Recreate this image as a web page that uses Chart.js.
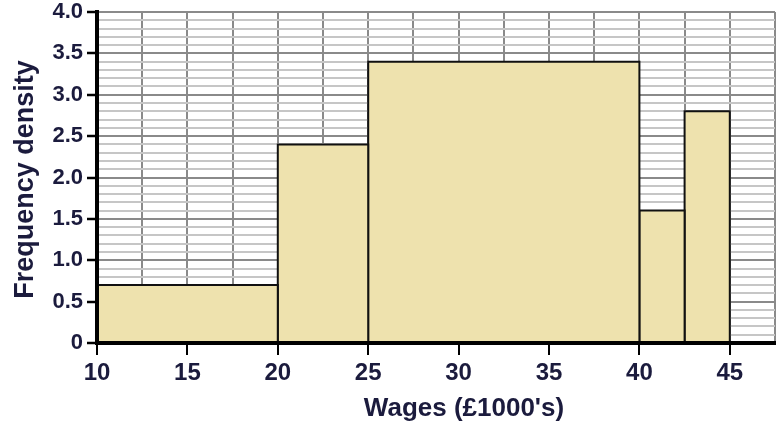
<!DOCTYPE html>
<html>
<head>
<meta charset="utf-8">
<script src="https://cdn.jsdelivr.net/npm/chart.js@4.4.0/dist/chart.umd.min.js"></script>
<style>
html,body{margin:0;padding:0;background:#fff;}
#wrap{width:776px;height:423px;position:relative;}
</style>
</head>
<body>
<div id="wrap"><canvas id="c" width="776" height="423"></canvas></div>
<script>
// ---- data ----
const classStarts = [10, 20, 25, 40, 42.5];
const classEnds = [20, 25, 40, 42.5, 45];
const frequencyDensity = [0.7, 2.4, 3.4, 1.6, 2.8];
const xTickLabels = ['10', '15', '20', '25', '30', '35', '40', '45'];
const yTickLabels = ['0', '0.5', '1.0', '1.5', '2.0', '2.5', '3.0', '3.5', '4.0'];
const xTitle = "Wages (£1000's)";
const yTitle = "Frequency density";

// ---- styles ----
const textColor = '#1b1b3d';
const barFill = '#eee2ae';
const fontFam = '"Liberation Sans", Arial, sans-serif';

function xLabelFor(v) {
  const i = xTickLabels.findIndex(l => Math.abs(Number(l) - v) < 1e-6);
  return i >= 0 ? xTickLabels[i] : '';
}
function yLabelFor(v) {
  const i = yTickLabels.findIndex(l => Math.abs(Number(l) - v) < 1e-6);
  return i >= 0 ? yTickLabels[i] : '';
}

const datasets = classStarts.map((s, i) => ({
  data: [
    {x: s, y: 0},
    {x: s, y: frequencyDensity[i]},
    {x: classEnds[i], y: frequencyDensity[i]},
    {x: classEnds[i], y: 0}
  ],
  fill: 'origin',
  backgroundColor: barFill,
  borderColor: '#111',
  borderWidth: 2,
  pointRadius: 0,
  pointHoverRadius: 0,
  tension: 0
}));

const titlePlugin = {
  id: 'axisTitles',
  afterDraw(chart) {
    const ctx = chart.ctx;
    const a = chart.chartArea;
    ctx.save();
    ctx.fillStyle = textColor;
    ctx.textAlign = 'center';
    ctx.textBaseline = 'alphabetic';
    ctx.font = 'bold 26px ' + fontFam;
    ctx.fillText(xTitle, (a.left + a.right) / 2 + 28, 416);
    ctx.font = 'bold 27px ' + fontFam;
    ctx.translate(33, (a.top + a.bottom) / 2 + 2);
    ctx.rotate(-Math.PI / 2);
    ctx.fillText(yTitle, 0, 0);
    ctx.restore();
  }
};

new Chart(document.getElementById('c'), {
  type: 'line',
  data: {datasets},
  plugins: [titlePlugin],
  options: {
    responsive: false,
    animation: false,
    devicePixelRatio: 1,
    layout: {padding: {top: 12, right: 1, left: 0, bottom: 0}},
    plugins: {legend: {display: false}, tooltip: {enabled: false}},
    events: [],
    scales: {
      x: {
        type: 'linear',
        min: 10,
        max: 47.5,
        afterFit(s) { s.height = 80; s.paddingRight = 0; s.paddingLeft = 0; },
        ticks: {
          stepSize: 2.5,
          autoSkip: false,
          maxRotation: 0,
          padding: 6,
          color: textColor,
          font: {family: fontFam, weight: 'bold', size: 24, lineHeight: 1},
          callback: v => xLabelFor(v)
        },
        grid: {
          color: '#8a8a8a',
          lineWidth: 2,
          tickLength: 12,
          tickWidth: 2,
          tickColor: ctx => (ctx.tick && xLabelFor(ctx.tick.value)) ? '#000' : 'rgba(0,0,0,0)'
        },
        border: {color: '#000', width: 4, z: 1}
      },
      y: {
        type: 'linear',
        min: 0,
        max: 4,
        afterFit(s) { s.width = 97; s.paddingTop = 0; s.paddingBottom = 0; },
        ticks: {
          stepSize: 0.1,
          autoSkip: false,
          padding: 4,
          color: textColor,
          font: {family: fontFam, weight: 'bold', size: 22, lineHeight: 1},
          callback: v => yLabelFor(v)
        },
        grid: {
          color: ctx => (ctx.tick && yLabelFor(ctx.tick.value)) ? '#8a8a8a' : '#c6c6c6',
          lineWidth: 2,
          tickLength: 10,
          tickWidth: 2.5,
          tickColor: ctx => (ctx.tick && yLabelFor(ctx.tick.value)) ? '#000' : 'rgba(0,0,0,0)'
        },
        border: {color: '#000', width: 4, z: 1}
      }
    }
  }
});
</script>
</body>
</html>
